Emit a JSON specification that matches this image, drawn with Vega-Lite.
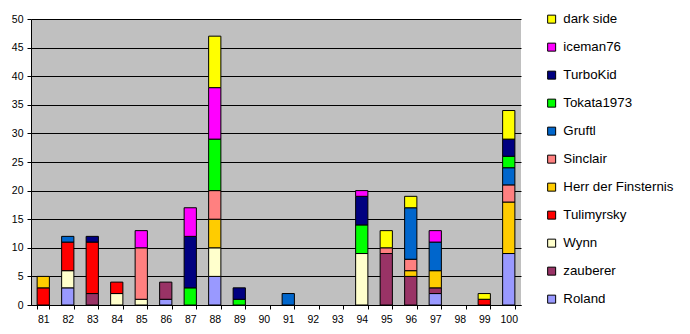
{
  "$schema": "https://vega.github.io/schema/vega-lite/v6.json",
  "width": 490,
  "height": 286,
  "autosize": {"type": "none"},
  "padding": {"left": 31, "top": 19, "right": 169, "bottom": 29},
  "background": "white",
  "config": {
    "font": "Liberation Sans",
    "view": {"fill": "#C0C0C0", "stroke": null},
    "axis": {"labelFont": "Liberation Sans", "labelColor": "black", "domainColor": "black", "tickColor": "black", "labelFontSize": 10.5}
  },
  "data": {
    "values": [
      {"r": 81, "p": "Tulimyrsky", "v": 3, "o": 4},
      {"r": 81, "p": "Herr der Finsternis", "v": 2, "o": 5},
      {"r": 82, "p": "Roland", "v": 3, "o": 1},
      {"r": 82, "p": "Wynn", "v": 3, "o": 3},
      {"r": 82, "p": "Tulimyrsky", "v": 5, "o": 4},
      {"r": 82, "p": "Gruftl", "v": 1, "o": 7},
      {"r": 83, "p": "zauberer", "v": 2, "o": 2},
      {"r": 83, "p": "Tulimyrsky", "v": 9, "o": 4},
      {"r": 83, "p": "TurboKid", "v": 1, "o": 9},
      {"r": 84, "p": "Wynn", "v": 2, "o": 3},
      {"r": 84, "p": "Tulimyrsky", "v": 2, "o": 4},
      {"r": 85, "p": "Wynn", "v": 1, "o": 3},
      {"r": 85, "p": "Sinclair", "v": 9, "o": 6},
      {"r": 85, "p": "iceman76", "v": 3, "o": 10},
      {"r": 86, "p": "Roland", "v": 1, "o": 1},
      {"r": 86, "p": "zauberer", "v": 3, "o": 2},
      {"r": 87, "p": "Tokata1973", "v": 3, "o": 8},
      {"r": 87, "p": "TurboKid", "v": 9, "o": 9},
      {"r": 87, "p": "iceman76", "v": 5, "o": 10},
      {"r": 88, "p": "Roland", "v": 5, "o": 1},
      {"r": 88, "p": "Wynn", "v": 5, "o": 3},
      {"r": 88, "p": "Herr der Finsternis", "v": 5, "o": 5},
      {"r": 88, "p": "Sinclair", "v": 5, "o": 6},
      {"r": 88, "p": "Tokata1973", "v": 9, "o": 8},
      {"r": 88, "p": "iceman76", "v": 9, "o": 10},
      {"r": 88, "p": "dark side", "v": 9, "o": 11},
      {"r": 89, "p": "Tokata1973", "v": 1, "o": 8},
      {"r": 89, "p": "TurboKid", "v": 2, "o": 9},
      {"r": 91, "p": "Gruftl", "v": 2, "o": 7},
      {"r": 94, "p": "Wynn", "v": 9, "o": 3},
      {"r": 94, "p": "Tokata1973", "v": 5, "o": 8},
      {"r": 94, "p": "TurboKid", "v": 5, "o": 9},
      {"r": 94, "p": "iceman76", "v": 1, "o": 10},
      {"r": 95, "p": "zauberer", "v": 9, "o": 2},
      {"r": 95, "p": "Sinclair", "v": 1, "o": 6},
      {"r": 95, "p": "dark side", "v": 3, "o": 11},
      {"r": 96, "p": "zauberer", "v": 5, "o": 2},
      {"r": 96, "p": "Herr der Finsternis", "v": 1, "o": 5},
      {"r": 96, "p": "Sinclair", "v": 2, "o": 6},
      {"r": 96, "p": "Gruftl", "v": 9, "o": 7},
      {"r": 96, "p": "dark side", "v": 2, "o": 11},
      {"r": 97, "p": "Roland", "v": 2, "o": 1},
      {"r": 97, "p": "zauberer", "v": 1, "o": 2},
      {"r": 97, "p": "Herr der Finsternis", "v": 3, "o": 5},
      {"r": 97, "p": "Gruftl", "v": 5, "o": 7},
      {"r": 97, "p": "iceman76", "v": 2, "o": 10},
      {"r": 99, "p": "Tulimyrsky", "v": 1, "o": 4},
      {"r": 99, "p": "dark side", "v": 1, "o": 11},
      {"r": 100, "p": "Roland", "v": 9, "o": 1},
      {"r": 100, "p": "Herr der Finsternis", "v": 9, "o": 5},
      {"r": 100, "p": "Sinclair", "v": 3, "o": 6},
      {"r": 100, "p": "Gruftl", "v": 3, "o": 7},
      {"r": 100, "p": "Tokata1973", "v": 2, "o": 8},
      {"r": 100, "p": "TurboKid", "v": 3, "o": 9},
      {"r": 100, "p": "dark side", "v": 5, "o": 11}
    ]
  },
  "mark": {"type": "bar", "stroke": "black", "strokeWidth": 1},
  "encoding": {
    "x": {
      "field": "r",
      "type": "ordinal",
      "scale": {"domain": [81, 82, 83, 84, 85, 86, 87, 88, 89, 90, 91, 92, 93, 94, 95, 96, 97, 98, 99, 100], "paddingInner": 0.5, "paddingOuter": 0.25},
      "axis": {"title": null, "labelAngle": 0, "tickBand": "extent", "tickSize": 4, "labelPadding": 5, "domainWidth": 1}
    },
    "y": {
      "field": "v",
      "type": "quantitative",
      "aggregate": "sum",
      "stack": "zero",
      "scale": {"domain": [0, 50], "nice": false},
      "axis": {"title": null, "values": [0, 5, 10, 15, 20, 25, 30, 35, 40, 45, 50], "grid": true, "gridColor": "black", "gridOpacity": 1, "tickSize": 4, "labelPadding": 4}
    },
    "order": {"field": "o", "type": "quantitative", "sort": "ascending"},
    "color": {
      "field": "p",
      "type": "nominal",
      "scale": {
        "domain": ["dark side", "iceman76", "TurboKid", "Tokata1973", "Gruftl", "Sinclair", "Herr der Finsternis", "Tulimyrsky", "Wynn", "zauberer", "Roland"],
        "range": ["#FFFF00", "#FF00FF", "#000080", "#00FF00", "#0066CC", "#FF8080", "#FFCC00", "#FF0000", "#FFFFCC", "#993366", "#9999FF"]
      },
      "legend": {
        "title": null,
        "orient": "none",
        "legendX": 514,
        "legendY": -6.5,
        "padding": 0,
        "symbolType": "square",
        "symbolSize": 64,
        "symbolStrokeColor": "black",
        "symbolStrokeWidth": 1,
        "symbolOpacity": 1,
        "labelFont": "Liberation Sans",
        "labelFontSize": 13.3,
        "labelColor": "black",
        "labelOffset": 5,
        "rowPadding": 14,
        "labelLimit": 200
      }
    }
  }
}
